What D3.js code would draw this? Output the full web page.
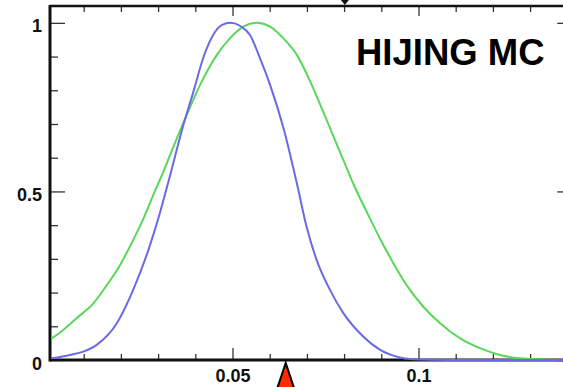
<!DOCTYPE html>
<html>
<head>
<meta charset="utf-8">
<script src="https://cdn.jsdelivr.net/npm/d3@7"></script>
<style>
  html, body { margin: 0; padding: 0; background: #fff; }
  svg { display: block; }
  text { font-family: "Liberation Sans", Arial, Helvetica, sans-serif; font-weight: bold; }
</style>
</head>
<body>
<svg id="chart" width="563" height="387"></svg>
<script>
// Normalised distributions (peak = 1)
const blueX = [0.0014, 0.0063, 0.0099, 0.0135, 0.0189, 0.0233, 0.0278, 0.0305, 0.0327, 0.0368, 0.0395, 0.0421, 0.0448, 0.0472, 0.0495, 0.0522, 0.0547, 0.0574, 0.0601, 0.0637, 0.0673, 0.0699, 0.0726, 0.0762, 0.0798, 0.0852, 0.0897, 0.0941, 0.0985, 0.1077, 0.1400];
const blueY = [0.005, 0.015, 0.025, 0.045, 0.109, 0.208, 0.340, 0.437, 0.526, 0.697, 0.796, 0.895, 0.964, 0.994, 1.000, 0.990, 0.964, 0.895, 0.816, 0.688, 0.524, 0.396, 0.297, 0.208, 0.139, 0.069, 0.030, 0.010, 0.002, 0.000, 0.000];

const greenX = [0.0014, 0.0045, 0.0081, 0.0126, 0.0162, 0.0198, 0.0233, 0.0260, 0.0287, 0.0314, 0.0341, 0.0377, 0.0413, 0.0458, 0.0493, 0.0529, 0.0565, 0.0601, 0.0637, 0.0673, 0.0713, 0.0744, 0.0771, 0.0798, 0.0825, 0.0861, 0.0897, 0.0932, 0.0968, 0.1013, 0.1058, 0.1112, 0.1165, 0.1219, 0.1273, 0.1345, 0.1400];
const greenY = [0.064, 0.089, 0.124, 0.168, 0.222, 0.282, 0.356, 0.418, 0.489, 0.558, 0.632, 0.727, 0.816, 0.905, 0.954, 0.989, 1.000, 0.989, 0.954, 0.905, 0.816, 0.736, 0.664, 0.593, 0.522, 0.439, 0.359, 0.288, 0.222, 0.158, 0.109, 0.064, 0.035, 0.015, 0.005, 0.001, 0.000];

const xMajor = [0.05, 0.1];
const xMinor = [0.01, 0.02, 0.03, 0.04, 0.06, 0.07, 0.08, 0.09, 0.11, 0.12, 0.13];
const yMajor = [0, 0.5, 1];
const yMinor = [0.1, 0.2, 0.3, 0.4, 0.6, 0.7, 0.8, 0.9];
const topMarker = 0.0802;
const bottomMarker = 0.0643;
const label = "HIJING MC";

const svg = d3.select("#chart");
const x = d3.scaleLinear().domain([0, 0.14]).range([46.5, 46.5 + 0.14 * 3720]);
const y = d3.scaleLinear().domain([0, 1.05]).range([360, 6]);
const plotL = 50, plotR = x(0.14), plotT = 6, plotB = 360;

svg.append("rect").attr("width", 563).attr("height", 387).attr("fill", "#fff");

const tickColor = "#333";
const fontFamily = "Liberation Sans, Arial, sans-serif";

// bottom axis ticks (pointing up)
function ticksX(g, vals, size, fmt) {
  g.call(d3.axisBottom(x).tickValues(vals).tickSize(size).tickFormat(fmt));
  g.select(".domain").remove();
  g.selectAll(".tick line").attr("stroke", tickColor).attr("stroke-width", 1.3);
}
svg.append("g").attr("transform", `translate(0,${plotB})`).call(g => ticksX(g, xMinor, -6, ""));
const bx = svg.append("g").attr("transform", `translate(0,${plotB})`).call(g => ticksX(g, xMajor, -12, d3.format("")));
bx.selectAll(".tick text").attr("y", 22).attr("dy", 0).attr("fill", "#111")
  .attr("font-size", 18).attr("font-family", fontFamily).attr("font-weight", "bold");

// top ticks (pointing down)
svg.append("g").attr("transform", `translate(0,${plotT})`).call(g => ticksX(g, xMinor, 6, ""));
svg.append("g").attr("transform", `translate(0,${plotT})`).call(g => ticksX(g, xMajor, 10, ""));

// left axis ticks (pointing right)
function ticksY(g, vals, size, fmt, orient) {
  g.call(orient(y).tickValues(vals).tickSize(size).tickFormat(fmt));
  g.select(".domain").remove();
  g.selectAll(".tick line").attr("stroke", tickColor).attr("stroke-width", 1.3);
}
svg.append("g").attr("transform", `translate(${plotL},0)`).call(g => ticksY(g, yMinor, -8, "", d3.axisLeft));
const ly = svg.append("g").attr("transform", `translate(${plotL},0)`).call(g => ticksY(g, yMajor, -15, d3.format(""), d3.axisLeft));
ly.selectAll(".tick text").attr("x", -8).attr("dy", "0.5em").attr("fill", "#111")
  .attr("font-size", 18).attr("font-family", fontFamily).attr("font-weight", "bold");

// right axis ticks (pointing left)
svg.append("g").attr("transform", `translate(${plotR},0)`).call(g => ticksY(g, yMajor, -10, "", d3.axisRight));

// frame lines
svg.append("line").attr("x1", plotL).attr("x2", plotR).attr("y1", plotT).attr("y2", plotT)
  .attr("stroke", "#111").attr("stroke-width", 2.5);
svg.append("line").attr("x1", plotL).attr("x2", plotL).attr("y1", plotT - 1).attr("y2", plotB + 1.5)
  .attr("stroke", "#111").attr("stroke-width", 3);
svg.append("line").attr("x1", plotL).attr("x2", plotR).attr("y1", plotB).attr("y2", plotB)
  .attr("stroke", "#111").attr("stroke-width", 3);

// curves
const line = d3.line().x(d => x(d[0])).y(d => y(d[1])).curve(d3.curveMonotoneX);
svg.append("path").datum(greenX.map((v, i) => [v, greenY[i]]))
  .attr("d", line).attr("fill", "none").attr("stroke", "#5ad65a").attr("stroke-width", 2);
svg.append("path").datum(blueX.map((v, i) => [v, blueY[i]]))
  .attr("d", line).attr("fill", "none").attr("stroke", "#6a6ae6").attr("stroke-width", 2);

// markers
const tx = x(topMarker);
svg.append("path").attr("d", `M${tx - 4},0 L${tx + 4},0 L${tx},5 Z`).attr("fill", "#111");
const mx = x(bottomMarker);
svg.append("path").attr("d", `M${mx},${plotB + 3} L${mx - 9},390 L${mx + 9},390 Z`)
  .attr("fill", "#ff2a00").attr("stroke", "#000").attr("stroke-width", 2).attr("stroke-linejoin", "miter");

// label
svg.append("text").attr("x", 356).attr("y", 65).attr("font-size", 36.5).attr("fill", "#000").text(label);
</script>
</body>
</html>
